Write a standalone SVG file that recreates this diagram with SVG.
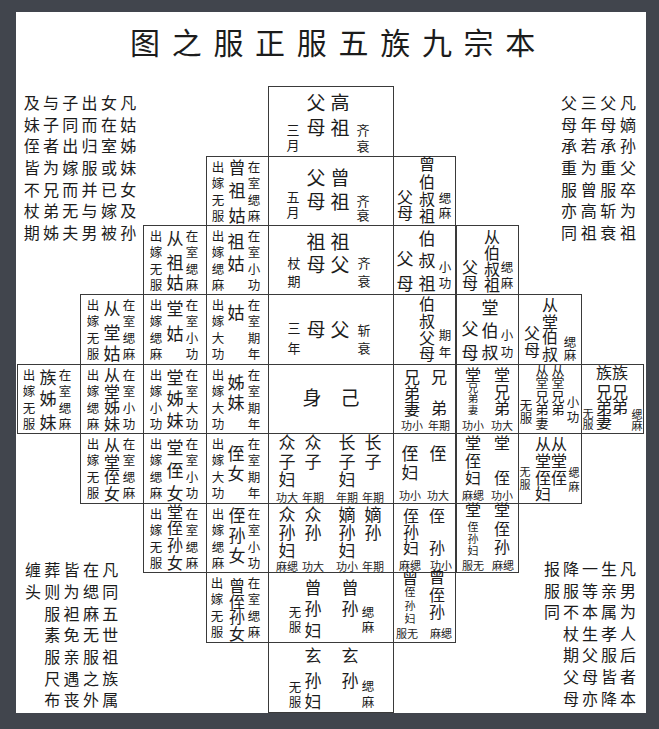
<svg xmlns="http://www.w3.org/2000/svg" width="659" height="729" viewBox="0 0 659 729">
<style>
text{font-family:"Noto Sans CJK SC","Noto Sans CJK TC",sans-serif;fill:#1c1c1c;text-anchor:middle}
.t{font-size:30px}
.c{font-size:16px}
.m{font-size:19px}
.cs{font-size:13px}
.n{font-size:17px}
.n4{font-size:16px}
.k{font-size:13px}
.s{font-size:12.5px}
.l{font-size:11px}
.xs{font-size:10.5px}
.cell{fill:none;stroke:#3a3a3a;stroke-width:1}
</style>
<rect width="659" height="729" fill="#41454d"/>
<rect x="16" y="12" width="630" height="701" fill="#fff"/>
<g id="title"><text class="t" x="145 186.7 228.4 270.1 311.8 353.5 395.2 436.9 478.6 520.3" y="54">图之服正服五族九宗本</text></g>
<g id="note-tl">
<text class="c" x="31.7 51 70.3 89.6 108.9 128.2" y="108.8">及与子出女凡</text>
<text class="c" x="31.7 51 70.3 89.6 108.9 128.2" y="130.5">妹子同而在姑</text>
<text class="c" x="31.7 51 70.3 89.6 108.9 128.2" y="152.2">侄者出归室姊</text>
<text class="c" x="31.7 51 70.3 89.6 108.9 128.2" y="173.9">皆为嫁服或妹</text>
<text class="c" x="31.7 51 70.3 89.6 108.9 128.2" y="195.6">不兄而并已女</text>
<text class="c" x="31.7 51 70.3 89.6 108.9 128.2" y="217.3">杖弟无与嫁及</text>
<text class="c" x="31.7 51 70.3 89.6 108.9 128.2" y="239">期姊夫男被孙</text>
</g>
<g id="note-tr">
<text class="c" x="569 588.7 608.3 628" y="108.8">父三父凡</text>
<text class="c" x="569 588.7 608.3 628" y="130.5">母年母嫡</text>
<text class="c" x="569 588.7 608.3 628" y="152.2">承若承孙</text>
<text class="c" x="569 588.7 608.3 628" y="173.9">重为重父</text>
<text class="c" x="569 588.7 608.3 628" y="195.6">服曾服卒</text>
<text class="c" x="569 588.7 608.3 628" y="217.3">亦高斩为</text>
<text class="c" x="569 588.7 608.3 628" y="239">同祖衰祖</text>
</g>
<g id="note-bl">
<text class="c" x="33 52.3 71.6 90.9 110.2" y="576.1">缠葬皆在凡</text>
<text class="c" x="33 52.3 71.6 90.9 110.2" y="597.8">头则为缌同</text>
<text class="c" x="52.3 71.6 90.9 110.2" y="619.5">服袒麻五</text>
<text class="c" x="52.3 71.6 90.9 110.2" y="641.2">素免无世</text>
<text class="c" x="52.3 71.6 90.9 110.2" y="662.9">服亲服祖</text>
<text class="c" x="52.3 71.6 90.9 110.2" y="684.6">尺遇之族</text>
<text class="c" x="52.3 71.6 90.9 110.2" y="706.3">布丧外属</text>
</g>
<g id="note-br">
<text class="c" x="552 571 590 609 628" y="575">报降一生凡</text>
<text class="c" x="552 571 590 609 628" y="596.6">服服等亲男</text>
<text class="c" x="552 571 590 609 628" y="618.2">同不本属为</text>
<text class="c" x="571 590 609 628" y="639.8">杖生孝人</text>
<text class="c" x="571 590 609 628" y="661.4">期父服后</text>
<text class="c" x="571 590 609 628" y="683">父母皆者</text>
<text class="c" x="571 590 609 628" y="704.6">母亦降本</text>
</g>

<g id="gaozu"><rect class="cell" x="268.5" y="86.5" width="125" height="70"/>
<text class="m" x="316 316" y="110 135">父母</text><text class="m" x="340 340" y="110 135">高祖</text>
<text class="cs" x="293 293" y="135 150">三月</text><text class="cs" x="363 363" y="135 151">齐衰</text></g>
<g id="zengzu"><rect class="cell" x="268.5" y="156.5" width="125" height="69"/>
<text class="m" x="316 316" y="185 209">父母</text><text class="m" x="340 340" y="185 209">曾祖</text>
<text class="cs" x="293 293" y="202 217">五月</text><text class="cs" x="363 363" y="205.5 220">齐衰</text></g>
<g id="zu"><rect class="cell" x="268.5" y="225.5" width="125" height="69"/>
<text class="m" x="316 316" y="249 272">祖母</text><text class="m" x="340 340" y="249 272">祖父</text>
<text class="cs" x="294 294" y="268 286">杖期</text><text class="cs" x="364 364" y="268 286">齐衰</text></g>
<g id="fumu"><rect class="cell" x="268.5" y="294.5" width="125" height="70"/>
<text class="m" x="316" y="337">母</text><text class="m" x="340" y="337">父</text>
<text class="cs" x="294 294" y="333 353">三年</text><text class="cs" x="364 364" y="335 353">斩衰</text></g>
<g id="ji"><rect class="cell" x="268.5" y="364.5" width="125" height="69"/>
<text class="m" x="312" y="405">身</text><text class="m" x="350" y="405">己</text></g>
<g id="zhongzi"><rect class="cell" x="268.5" y="433.5" width="125" height="70"/>
<text class="n" x="287 287 287" y="449 467.5 486">众子妇</text><text class="n" x="313 313" y="449 467.5">众子</text>
<text class="n" x="347 347 347" y="449 467.5 486">长子妇</text><text class="n" x="373 373" y="449 467.5">长子</text>
<text class="l" x="287" y="501.5">功大</text><text class="l" x="313" y="501.5">年期</text><text class="l" x="347" y="501.5">年期</text><text class="l" x="373" y="501.5">年期</text></g>
<g id="zhongsun"><rect class="cell" x="268.5" y="503.5" width="125" height="69"/>
<text class="n" x="287 287 287" y="520.5 538.5 556.5">众孙妇</text><text class="n" x="313 313" y="520.5 538.5">众孙</text>
<text class="n" x="347 347 347" y="520.5 538.5 556.5">嫡孙妇</text><text class="n" x="373 373" y="520.5 538.5">嫡孙</text>
<text class="l" x="287" y="570.5">麻缌</text><text class="l" x="313" y="570.5">功大</text><text class="l" x="347" y="570.5">功小</text><text class="l" x="373" y="570.5">年期</text></g>
<g id="zengsun"><rect class="cell" x="268.5" y="572.5" width="125" height="70"/>
<text class="n" x="313 313 313" y="593.5 614.5 636.5">曾孙妇</text><text class="n" x="350 350" y="593.5 614.5">曾孙</text>
<text class="s" x="295 295" y="617 632">无服</text><text class="s" x="368 368" y="617 632">缌麻</text></g>
<g id="xuansun"><rect class="cell" x="268.5" y="642.5" width="125" height="70"/>
<text class="n" x="313 313 313" y="661.5 686.5 708">玄孙妇</text><text class="n" x="350 350" y="661.5 686.5">玄孙</text>
<text class="s" x="295 295" y="692 707">无服</text><text class="s" x="368 368" y="691 707">缌麻</text></g>

<g id="zengzugu"><rect class="cell" x="206.5" y="156.5" width="62" height="69"/>
<text class="s" x="218 218 218 218" y="171.5 188 204.5 221">出嫁无服</text>
<text class="n" x="237 237 237" y="173.5 196.5 221.5">曾祖姑</text>
<text class="s" x="254 254 254 254" y="171.5 188 204.5 221">在室缌麻</text></g>
<g id="congzugu"><rect class="cell" x="143.5" y="225.5" width="63" height="69"/>
<text class="s" x="156 156 156 156" y="240.5 257 273.5 290">出嫁无服</text>
<text class="n" x="175 175 175" y="244.5 268.5 288.5">从祖姑</text>
<text class="s" x="192 192 192 192" y="240.5 257 273.5 290">在室缌麻</text></g>
<g id="zugu"><rect class="cell" x="206.5" y="225.5" width="62" height="69"/>
<text class="s" x="218 218 218 218" y="240.5 257 273.5 290">出嫁缌麻</text>
<text class="n" x="236 236" y="247.5 269.5">祖姑</text>
<text class="s" x="254 254 254 254" y="240.5 257 273.5 290">在室小功</text></g>
<g id="congtanggu"><rect class="cell" x="80.5" y="294.5" width="63" height="70"/>
<text class="s" x="93 93 93 93" y="309.5 326 342.5 359">出嫁无服</text>
<text class="n" x="112 112 112" y="314.5 338.5 359.5">从堂姑</text>
<text class="s" x="129 129 129 129" y="309.5 326 342.5 359">在室缌麻</text></g>
<g id="tanggu"><rect class="cell" x="143.5" y="294.5" width="63" height="70"/>
<text class="s" x="156 156 156 156" y="309.5 326 342.5 359">出嫁缌麻</text>
<text class="n" x="175 175" y="314.5 339.5">堂姑</text>
<text class="s" x="192 192 192 192" y="309.5 326 342.5 359">在室小功</text></g>
<g id="gu"><rect class="cell" x="206.5" y="294.5" width="62" height="70"/>
<text class="s" x="218 218 218 218" y="309.5 326 342.5 359">出嫁大功</text>
<text class="n" x="236" y="318.5">姑</text>
<text class="s" x="254 254 254 254" y="309.5 326 342.5 359">在室期年</text></g>

<g id="zuzimei"><rect class="cell" x="17.5" y="364.5" width="63" height="69"/>
<text class="s" x="29 29 29 29" y="379.5 396 412.5 429">出嫁无服</text>
<text class="n" x="48 48 48" y="383.5 404.5 429">族姊妹</text>
<text class="s" x="65 65 65 65" y="379.5 396 412.5 429">在室缌麻</text></g>
<g id="congtangzimei"><rect class="cell" x="80.5" y="364.5" width="63" height="69"/>
<text class="s" x="93 93 93 93" y="379.5 396 412.5 429">出嫁缌麻</text>
<text class="n4" x="112 112 112 112" y="381 398 413 430">从堂姊妹</text>
<text class="s" x="129 129 129 129" y="379.5 396 412.5 429">在室小功</text></g>
<g id="tangzimei"><rect class="cell" x="143.5" y="364.5" width="63" height="69"/>
<text class="s" x="156 156 156 156" y="379.5 396 412.5 429">出嫁小功</text>
<text class="n" x="175 175 175" y="383.5 404.5 426.5">堂姊妹</text>
<text class="s" x="192 192 192 192" y="379.5 396 412.5 429">在室大功</text></g>
<g id="zimei"><rect class="cell" x="206.5" y="364.5" width="62" height="69"/>
<text class="s" x="218 218 218 218" y="379.5 396 412.5 429">出嫁大功</text>
<text class="n" x="236 236" y="388.5 408.5">姊妹</text>
<text class="s" x="254 254 254 254" y="379.5 396 412.5 429">在室期年</text></g>

<g id="congtangzhinv"><rect class="cell" x="80.5" y="433.5" width="63" height="70"/>
<text class="s" x="93 93 93 93" y="448.5 465 481.5 498">出嫁无服</text>
<text class="n4" x="112 112 112 112" y="451 468 483 500">从堂侄女</text>
<text class="s" x="129 129 129 129" y="448.5 465 481.5 498">在室缌麻</text></g>
<g id="tangzhinv"><rect class="cell" x="143.5" y="433.5" width="63" height="70"/>
<text class="s" x="156 156 156 156" y="448.5 465 481.5 498">出嫁缌麻</text>
<text class="n" x="175 175 175" y="453.5 476.5 499.5">堂侄女</text>
<text class="s" x="192 192 192 192" y="448.5 465 481.5 498">在室小功</text></g>
<g id="zhinv"><rect class="cell" x="206.5" y="433.5" width="62" height="70"/>
<text class="s" x="218 218 218 218" y="448.5 465 481.5 498">出嫁大功</text>
<text class="n" x="236 236" y="459.5 479.5">侄女</text>
<text class="s" x="254 254 254 254" y="448.5 465 481.5 498">在室期年</text></g>

<g id="tangzhisunnv"><rect class="cell" x="143.5" y="503.5" width="63" height="69"/>
<text class="s" x="156 156 156 156" y="518.5 535 551.5 568">出嫁无服</text>
<text class="n4" x="175 175 175 175" y="518 534 551 569">堂侄孙女</text>
<text class="s" x="192 192 192 192" y="518.5 535 551.5 568">在室缌麻</text></g>
<g id="zhisunnv"><rect class="cell" x="206.5" y="503.5" width="62" height="69"/>
<text class="s" x="218 218 218 218" y="518.5 535 551.5 568">出嫁缌麻</text>
<text class="n" x="237 237 237" y="521.5 541.5 561.5">侄孙女</text>
<text class="s" x="254 254 254 254" y="518.5 535 551.5 568">在室小功</text></g>
<g id="zengzhisunnv"><rect class="cell" x="206.5" y="572.5" width="62" height="70"/>
<text class="s" x="217 217 217 217" y="587.5 604 620.5 637">出嫁无服</text>
<text class="n4" x="237 237 237 237" y="592 608 623 640">曾侄孙女</text>
<text class="s" x="254 254 254 254" y="587.5 604 620.5 637">在室缌麻</text></g>

<g id="zengboshuzu"><rect class="cell" x="393.5" y="156.5" width="62" height="69"/>
<text class="n4" x="427 427 427 427" y="170 187.5 205 222">曾伯叔祖</text>
<text class="n4" x="405 405" y="203 219">父母</text>
<text class="s" x="445 445" y="202.8 217.8">缌麻</text></g>
<g id="boshuzu"><rect class="cell" x="393.5" y="225.5" width="62" height="69"/>
<text class="n" x="427 427 427" y="244.5 266.5 289.5">伯叔祖</text>
<text class="n" x="405 405" y="264.5 289.5">父母</text>
<text class="s" x="445 445" y="271.8 287.8">小功</text></g>
<g id="congboshuzu"><rect class="cell" x="456.5" y="225.5" width="62" height="69"/>
<text class="n4" x="492 492 492 492" y="243 259 275 291">从伯叔祖</text>
<text class="n4" x="470 470" y="273 289">父母</text>
<text class="s" x="507 507" y="271.8 287.8">缌麻</text></g>
<g id="boshufumu"><rect class="cell" x="393.5" y="294.5" width="62" height="70"/>
<text class="n4" x="427 427 427 427" y="310 327 344 360">伯叔父母</text>
<text class="s" x="445 445" y="339.8 356.8">期年</text></g>
<g id="tangboshu"><rect class="cell" x="456.5" y="294.5" width="62" height="70"/>
<text class="n" x="490 490 490" y="313.5 336.5 358.5">堂伯叔</text>
<text class="n" x="470 470" y="334.5 358.5">父母</text>
<text class="s" x="507 507" y="339.8 356.8">小功</text></g>
<g id="congtangboshu"><rect class="cell" x="518.5" y="294.5" width="63" height="70"/>
<text class="n4" x="550 550 550 550" y="311 328 343 360">从堂伯叔</text>
<text class="n4" x="532 532" y="339 356">父母</text>
<text class="s" x="570 570" y="346.5 360">缌麻</text></g>

<g id="xiongdi"><rect class="cell" x="393.5" y="364.5" width="62" height="69"/>
<text class="n4" x="412 412 412" y="382.5 398.5 415">兄弟妻</text>
<text class="n4" x="439 439" y="382.5 414">兄弟</text>
<text class="l" x="412" y="430">功小</text><text class="l" x="439" y="430">年期</text></g>
<g id="tangxiongdi"><rect class="cell" x="456.5" y="364.5" width="62" height="69"/>
<text class="n4" x="473" y="381">堂</text><text class="xs" x="473 473 473" y="392 402 414">兄弟妻</text>
<text class="n4" x="502 502 502" y="381 397.5 414">堂兄弟</text>
<text class="l" x="473" y="430">功小</text><text class="l" x="502" y="430">功大</text></g>
<g id="congtangxiongdi"><rect class="cell" x="518.5" y="364.5" width="63" height="69"/>
<text class="k" x="542 542 542 542 542" y="375 387 401 414 428">从堂兄弟妻</text>
<text class="k" x="558 558 558 558" y="375 387 401 414">从堂兄弟</text>
<text class="s" x="526 526" y="409.8 422.8">无服</text>
<text class="s" x="573 573" y="406.8 421.8">小功</text></g>
<g id="zuxiongdi"><rect class="cell" x="581.5" y="364.5" width="62" height="69"/>
<text class="n4" x="604 604 604 604" y="379 398 413 428">族兄弟妻</text>
<text class="n4" x="620 620 620" y="379 398 413">族兄弟</text>
<text class="l" x="588 588" y="417.7 429.4">无服</text>
<text class="l" x="637 637" y="419.4 430">缌麻</text></g>

<g id="zhi"><rect class="cell" x="393.5" y="433.5" width="62" height="70"/>
<text class="n" x="410 410" y="459.5 478.5">侄妇</text>
<text class="n" x="438" y="459.5">侄</text>
<text class="l" x="410" y="500">功小</text><text class="l" x="438" y="500">功大</text></g>
<g id="tangzhi"><rect class="cell" x="456.5" y="433.5" width="62" height="70"/>
<text class="n4" x="473 473 473" y="449 467 483.5">堂侄妇</text>
<text class="n4" x="502 502" y="449 484">堂侄</text>
<text class="l" x="473" y="500">麻缌</text><text class="l" x="502" y="500">功小</text></g>
<g id="congtangzhi"><rect class="cell" x="518.5" y="433.5" width="63" height="70"/>
<text class="n4" x="543 543 543 543" y="450 467 484 500">从堂侄妇</text>
<text class="n4" x="559 559 559" y="450 467 484">从堂侄</text>
<text class="l" x="525 525" y="476.4 489.4">无服</text>
<text class="l" x="574 574" y="477.4 491.4">缌麻</text></g>

<g id="zhisun"><rect class="cell" x="393.5" y="503.5" width="62" height="69"/>
<text class="n4" x="411 411 411" y="522 538 553.5">侄孙妇</text>
<text class="n4" x="437 437" y="522 553.5">侄孙</text>
<text class="l" x="410" y="570">麻缌</text><text class="l" x="441" y="570">功小</text></g>
<g id="tangzhisun"><rect class="cell" x="456.5" y="503.5" width="62" height="69"/>
<text class="n4" x="473" y="516">堂</text><text class="l" x="473 473 473" y="530.5 543 555">侄孙妇</text>
<text class="n4" x="502 502 502" y="516 534.5 553">堂侄孙</text>
<text class="l" x="473" y="570">服无</text><text class="l" x="503" y="570">麻缌</text></g>
<g id="zengzhisun"><rect class="cell" x="393.5" y="572.5" width="62" height="70"/>
<text class="n4" x="410" y="584">曾</text><text class="l" x="410 410 410" y="596 610 623">侄孙妇</text>
<text class="n4" x="437 437 437" y="583 600.5 618">曾侄孙</text>
<text class="l" x="407" y="638">服无</text><text class="l" x="441" y="638">麻缌</text></g>
</svg>
